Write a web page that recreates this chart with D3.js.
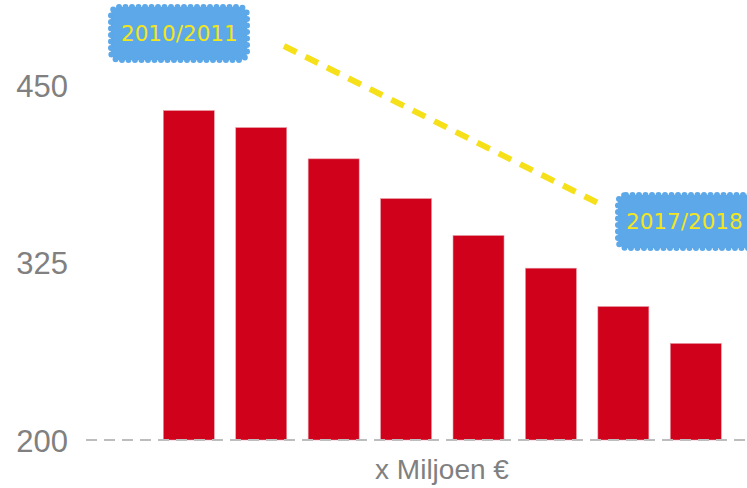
<!DOCTYPE html>
<html>
<head>
<meta charset="utf-8">
<script src="https://cdn.jsdelivr.net/npm/d3@7"></script>
<style>
  body { margin: 0; background: #fff; }
</style>
</head>
<body>
<svg id="chart"></svg>
<script>
// jaren en bedragen (x miljoen euro)
var years = ["2010/2011", "2011/2012", "2012/2013", "2013/2014",
             "2014/2015", "2015/2016", "2016/2017", "2017/2018"];
var amounts = [432, 420, 398, 370, 344, 321, 294, 268];
var tickValues = [200, 325, 450];
var unitLabel = "x Miljoen \u20AC";
var firstLabel = years[0];
var lastLabel = years[years.length - 1];

function draw_chart(id) {
    "use strict";
    var width = 747, height = 488;

    var svg = d3.select(id)
        .attr("width", width)
        .attr("height", height)
        .style("background-color", "white");

    var x = d3.scaleBand()
        .domain(years)
        .range([152.6, 732])
        .paddingInner(0.296)
        .paddingOuter(0.148);

    var y = d3.scaleLinear()
        .domain([200, 450])
        .range([440, 85]);

    // staven
    svg.selectAll("rect.bar")
        .data(amounts)
        .enter()
        .append("rect")
        .attr("class", "bar")
        .attr("x", function(d, i) { return x(years[i]); })
        .attr("y", function(d) { return y(d); })
        .attr("width", x.bandwidth())
        .attr("height", function(d) { return y(200) - y(d); })
        .attr("fill", "#d0011b")
        .attr("stroke", "#e79aa3")
        .attr("stroke-width", 0.6);

    // gestippelde basislijn
    svg.append("line")
        .attr("x1", 86).attr("x2", width)
        .attr("y1", y(200)).attr("y2", y(200))
        .attr("stroke", "#bdbdbd")
        .attr("stroke-width", 2)
        .attr("stroke-dasharray", "11,7");

    // y-as labels
    var yAxis = d3.axisLeft(y)
        .tickValues(tickValues)
        .tickSize(0)
        .tickPadding(0);
    var gy = svg.append("g")
        .attr("transform", "translate(68,0)")
        .call(yAxis);
    gy.select(".domain").remove();
    gy.selectAll("text")
        .attr("fill", "#808080")
        .attr("font-family", "'Liberation Sans', Arial, sans-serif")
        .attr("font-size", "31px")
        .attr("dy", "0.36em");

    // eenheid
    svg.append("text")
        .attr("x", 442)
        .attr("y", 479)
        .attr("text-anchor", "middle")
        .attr("fill", "#808080")
        .attr("font-family", "'Liberation Sans', Arial, sans-serif")
        .attr("font-size", "28px")
        .text(unitLabel);

    // gele trendlijn
    svg.append("line")
        .attr("x1", 284).attr("y1", 46)
        .attr("x2", 598).attr("y2", 203)
        .attr("stroke", "#f6e01a")
        .attr("stroke-width", 6)
        .attr("stroke-dasharray", "14,10");

    // wolk-labels
    function cloud(bx, by, bw, bh, label, tx, ty) {
        var g = svg.append("g");
        g.append("rect")
            .attr("x", bx).attr("y", by)
            .attr("width", bw).attr("height", bh)
            .attr("rx", 8).attr("ry", 8)
            .attr("fill", "#5ca8e9")
            .attr("stroke", "#5ca8e9")
            .attr("stroke-width", 6)
            .attr("stroke-linecap", "round")
            .attr("stroke-dasharray", "0,6.5");
        g.append("text")
            .attr("x", tx).attr("y", ty)
            .attr("fill", "#f3e51c")
            .attr("font-family", "'DejaVu Sans', Verdana, sans-serif")
            .attr("font-size", "21.5px")
            .text(label);
    }
    cloud(111, 7, 136, 53, firstLabel, 121, 41);
    cloud(618, 195, 150, 53, lastLabel, 626, 229);
}

draw_chart("#chart");
</script>
</body>
</html>
